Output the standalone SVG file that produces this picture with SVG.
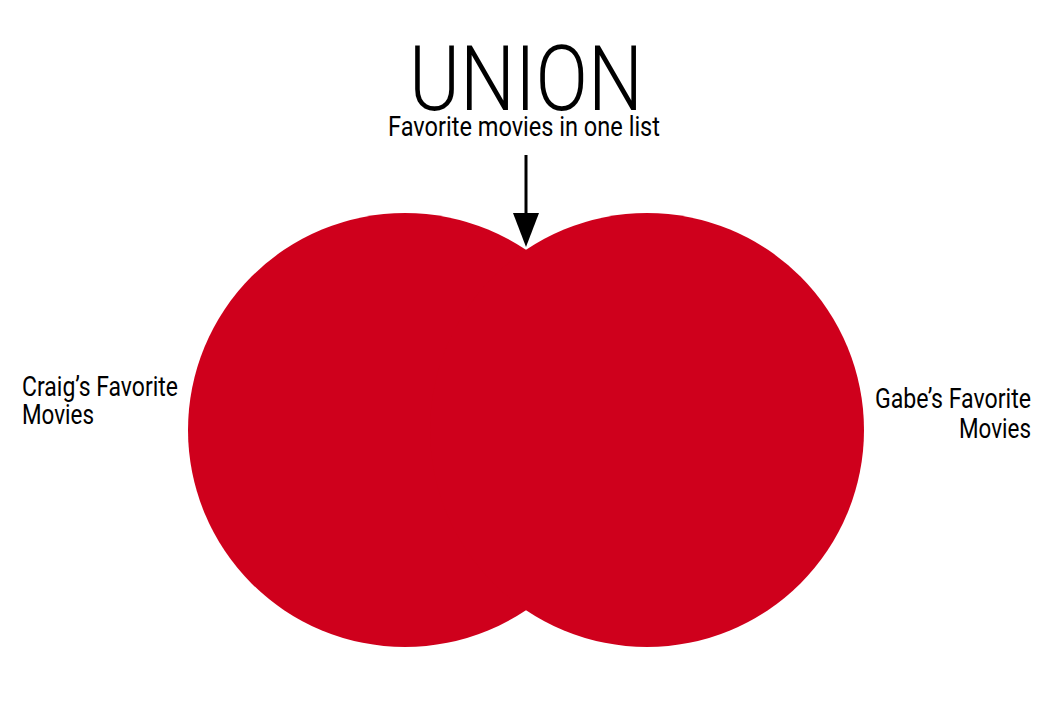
<svg xmlns="http://www.w3.org/2000/svg" width="1053" height="718" viewBox="0 0 1053 718">
<defs>
<style>
.t{font-family:Roboto,"DejaVu Sans",sans-serif;font-weight:400;fill:#000}
.big{font-weight:300}
.c{fill:#CF001C}
</style>
</defs>
<rect width="1053" height="718" fill="#fff"/>
<g id="craig">
<circle class="c" cx="405" cy="430" r="217"/>
</g>
<g id="gabe">
<circle class="c" cx="647" cy="430" r="217"/>
</g>
<g id="title">
<text class="t big" x="526" y="110" font-size="91" text-anchor="middle" textLength="234" lengthAdjust="spacingAndGlyphs">UNION</text>
<text class="t" x="524" y="136" font-size="27" text-anchor="middle" textLength="272" lengthAdjust="spacingAndGlyphs">Favorite movies in one list</text>
</g>
<g id="craig-label">
<text class="t" x="22" y="396" font-size="28" textLength="156" lengthAdjust="spacingAndGlyphs">Craig’s Favorite</text>
<text class="t" x="22" y="424" font-size="28" textLength="72" lengthAdjust="spacingAndGlyphs">Movies</text>
</g>
<g id="gabe-label">
<text class="t" x="1031" y="408" font-size="28" text-anchor="end" textLength="156" lengthAdjust="spacingAndGlyphs">Gabe’s Favorite</text>
<text class="t" x="1031" y="438" font-size="28" text-anchor="end" textLength="72" lengthAdjust="spacingAndGlyphs">Movies</text>
</g>
<g id="connectors">
<line x1="526" y1="155" x2="526" y2="215" stroke="#000" stroke-width="3"/>
<polygon points="513,213 539,213 526,247" fill="#000"/>
</g>
</svg>
